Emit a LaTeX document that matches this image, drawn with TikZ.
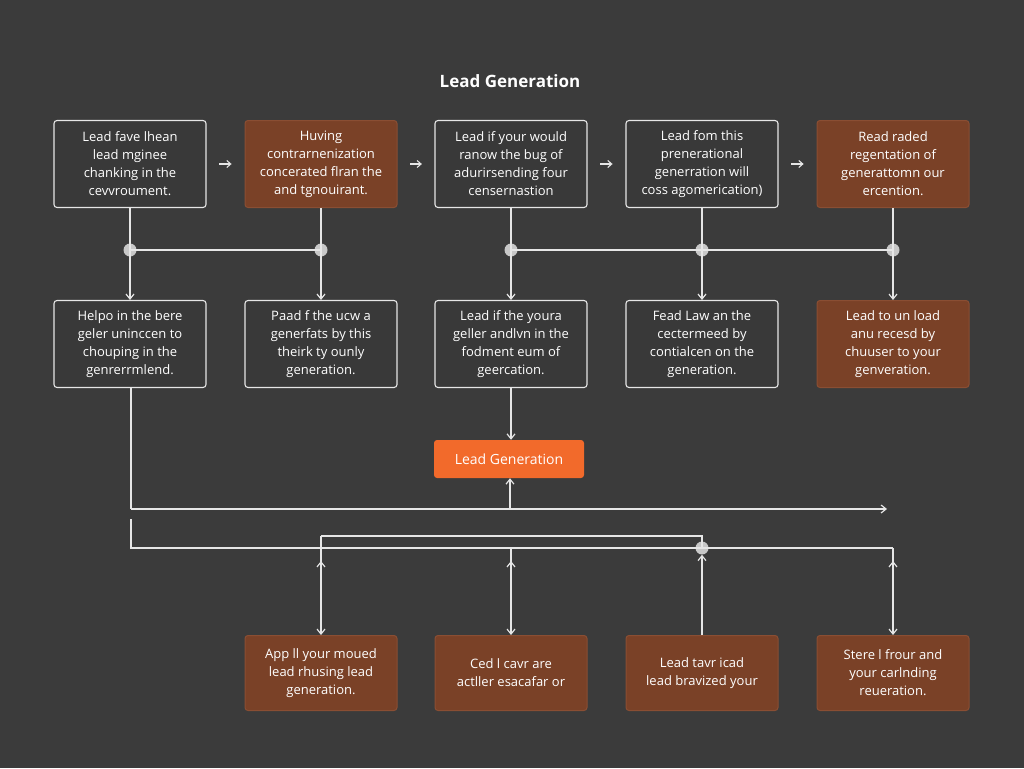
\documentclass[tikz,border=0pt]{standalone}
\usepackage{fontspec}
\setmainfont{Open Sans}
\usetikzlibrary{arrows.meta,calc}
\definecolor{bg}{HTML}{3B3B3B}
\definecolor{boxdark}{HTML}{393939}
\definecolor{brownf}{HTML}{7A4127}
\definecolor{browne}{HTML}{8A4E33}
\definecolor{orangef}{HTML}{F26A2B}
\definecolor{linec}{HTML}{E6E6E6}
\definecolor{dotc}{HTML}{C8C8C8}
\begin{document}
\begin{tikzpicture}[x=1pt,y=-1pt,
  txt/.style={text=white,font=\fontsize{13}{18}\selectfont,align=center},
  dbox/.style={txt,draw=linec,line width=1.1pt,fill=boxdark,rounded corners=3pt,minimum width=152pt,minimum height=87pt,inner sep=2pt},
  bbox/.style={txt,draw=browne,line width=1pt,fill=brownf,rounded corners=3pt,minimum width=152pt,minimum height=87pt,inner sep=2pt},
  lbox/.style={bbox,minimum height=75pt},
  obox/.style={txt,draw=none,fill=orangef,rounded corners=3pt,minimum width=150pt,minimum height=38pt,font=\fontsize{14}{16}\selectfont},
  ln/.style={draw=linec,line width=1.3pt},
  arr/.style={ln,-{Straight Barb[length=5pt,width=8pt,line width=1.2pt]}},
  sarr/.style={draw=linec,line width=1.1pt,-{Straight Barb[length=4pt,width=7pt]}},
  dot/.style={circle,fill=dotc,inner sep=0pt,minimum size=13pt}]
\fill[bg] (0,0) rectangle (1024,768);
\useasboundingbox (0,0) rectangle (1024,768);
\node[text=white,font=\fontsize{17}{20}\selectfont\bfseries] (title) at (510,81) {Lead Generation};
% top row
\node[dbox] (t1) at (130,164) {Lead fave lhean\\lead mginee\\chanking in the\\cevvroument.};
\node[bbox] (t2) at (321,164) {Huving\\contrarnenization\\concerated flran the\\and tgnouirant.};
\node[dbox] (t3) at (511,164) {Lead if your would\\ranow the bug of\\adurirsending four\\censernastion};
\node[dbox] (t4) at (702,164) {Lead fom this\\prenerational\\generration will\\coss agomerication)};
\node[bbox] (t5) at (893,164) {Read raded\\regentation of\\generattomn our\\ercention.};
% middle row
\node[dbox] (m1) at (130,344) {Helpo in the bere\\geler uninccen to\\chouping in the\\genrerrmlend.};
\node[dbox] (m2) at (321,344) {Paad f the ucw a\\generfats by this\\theirk ty ounly\\generation.};
\node[dbox] (m3) at (511,344) {Lead if the youra\\geller andlvn in the\\fodment eum of\\geercation.};
\node[dbox] (m4) at (702,344) {Fead Law an the\\cectermeed by\\contialcen on the\\generation.};
\node[bbox] (m5) at (893,344) {Lead to un load\\anu recesd by\\chuuser to your\\genveration.};
% center
\node[obox] (lg) at (509,459) {Lead Generation};
% bottom row
\node[lbox] (b1) at (321,673) {App ll your moued\\lead rhusing lead\\generation.};
\node[lbox] (b2) at (511,673) {Ced l cavr are\\actller esacafar or};
\node[lbox] (b3) at (702,673) {Lead tavr icad\\lead bravized your};
\node[lbox] (b4) at (893,673) {Stere l frour and\\your carlnding\\reueration.};
% small arrows between top boxes
\foreach \a/\b in {t1/t2,t2/t3,t3/t4,t4/t5}
  \draw[sarr] ($(\a.east)!0.34!(\b.west)$) -- ($(\a.east)!0.66!(\b.west)$);
% dots
\node[dot] (d1) at (130,250) {};
\node[dot] (d2) at (321,250) {};
\node[dot] (d3) at (511,250) {};
\node[dot] (d4) at (702,250) {};
\node[dot] (d5) at (893,250) {};
\foreach \i in {1,...,5} {
  \draw[ln] (t\i.south) -- (d\i.center);
  \draw[arr] (d\i.center) -- (m\i.north);
}
\draw[ln] (d1.center) -- (d2.center);
\draw[ln] (d3.center) -- (d4.center) -- (d5.center);
\draw[arr] (m3.south) -- (m3.south |- lg.north);
% lower loop
\coordinate (c1) at (131,509);
\coordinate (c2) at (887,509);
\coordinate (c3) at (510,509);
\draw[ln] (m1.south -| c1) -- (c1);
\draw[arr] (c1) -- (c2);
\draw[arr] (c3) -- (c3 |- lg.south);
% bottom bus
\coordinate (e1) at (131,519);
\coordinate (e2) at (131,548);
\coordinate (e3) at (893,548);
\coordinate (u1) at (321,536);
\coordinate (u2) at (702,536);
\node[dot] (d6) at (702,548) {};
\draw[ln] (e1) -- (e2) -- (e3);
\draw[ln] (u1) -- (u2) -- (d6.center);
\draw[arr] (u1) -- (b1.north);
\draw[arr] (b2.north |- e2) -- (b2.north);
\draw[arr] (e3) -- (b4.north);
\draw[arr] (b3.north) -- (d6.south);
\foreach \n in {b1,b2,b4}
  \draw[arr] ($(\n.north)+(0,-55)$) -- ($(\n.north)+(0,-74)$);
\end{tikzpicture}
\end{document}
